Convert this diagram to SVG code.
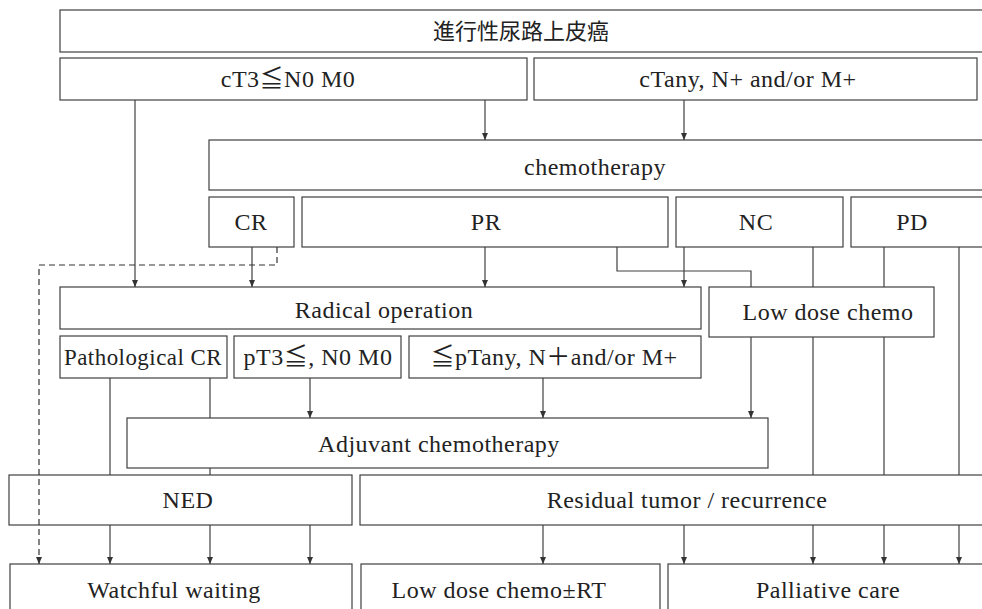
<svg xmlns="http://www.w3.org/2000/svg" width="982" height="609" viewBox="0 0 982 609">
<defs>
<style>
.b{fill:#fff;stroke:#404040;stroke-width:1.2}
.t{font-family:"Liberation Serif","DejaVu Serif","Noto Sans CJK JP",serif;font-size:24px;letter-spacing:0.5px;fill:#222;text-anchor:middle}
.j{font-family:"Noto Sans CJK JP","Liberation Serif",sans-serif;font-size:22px;fill:#222;text-anchor:middle}
.c{fill:none;stroke:#404040;stroke-width:1.2}
.a{marker-end:url(#ah)}
.d{stroke:#333;stroke-dasharray:6 4}
</style>
<marker id="ah" markerUnits="userSpaceOnUse" markerWidth="8" markerHeight="8" refX="7" refY="3" orient="auto">
<path d="M0,0 L7,3 L0,6 z" fill="#333"/>
</marker>
</defs>
<g id="title"><rect class="b" x="60" y="10" width="940" height="42"/><text class="j" x="521" y="39">進行性尿路上皮癌</text></g>
<g id="ct3"><rect class="b" x="60" y="58" width="467" height="42"/><text class="t" x="288" y="87">cT3≦N0 M0</text></g>
<g id="ctany"><rect class="b" x="534" y="58" width="443" height="42"/><text class="t" x="748" y="87">cTany, N+ and/or M+</text></g>
<g id="chemo"><rect class="b" x="209" y="140" width="790" height="50"/><text class="t" x="595" y="175">chemotherapy</text></g>
<g id="cr"><rect class="b" x="209" y="197" width="85" height="50"/><text class="t" x="251" y="230">CR</text></g>
<g id="pr"><rect class="b" x="302" y="197" width="366" height="50"/><text class="t" x="486" y="230">PR</text></g>
<g id="nc"><rect class="b" x="676" y="197" width="167" height="50"/><text class="t" x="756" y="230">NC</text></g>
<g id="pd"><rect class="b" x="851" y="197" width="150" height="50"/><text class="t" x="912" y="230">PD</text></g>
<g id="radical"><rect class="b" x="60" y="287" width="641" height="42"/><text class="t" x="384" y="318">Radical operation</text></g>
<g id="lowdose"><rect class="b" x="709" y="287" width="225" height="50"/><text class="t" x="828" y="320">Low dose chemo</text></g>
<g id="pcr"><rect class="b" x="60" y="336" width="167" height="42"/><text class="t" x="143" y="365" textLength="158" lengthAdjust="spacingAndGlyphs">Pathological CR</text></g>
<g id="pt3"><rect class="b" x="234" y="336" width="167" height="42"/><text class="t" x="318" y="365">pT3≦, N0 M0</text></g>
<g id="ptany"><rect class="b" x="409" y="336" width="292" height="42"/><text class="t" x="554" y="365">≦pTany, N＋and/or M+</text></g>
<g id="adjuvant"><rect class="b" x="127" y="418" width="641" height="50"/><text class="t" x="439" y="452">Adjuvant chemotherapy</text></g>
<g id="ned"><rect class="b" x="9" y="475" width="343" height="50"/><text class="t" x="188" y="508">NED</text></g>
<g id="residual"><rect class="b" x="360" y="475" width="640" height="50"/><text class="t" x="687" y="508">Residual tumor / recurrence</text></g>
<g id="watchful"><rect class="b" x="10" y="564" width="342" height="60"/><text class="t" x="174" y="598">Watchful waiting</text></g>
<g id="lowdosert"><rect class="b" x="361" y="564" width="299" height="60"/><text class="t" x="499" y="598">Low dose chemo±RT</text></g>
<g id="palliative"><rect class="b" x="668" y="564" width="332" height="60"/><text class="t" x="828" y="598">Palliative care</text></g>
<g id="connectors">
<path class="c a" d="M135 100 V287"/>
<path class="c a" d="M485 100 V140"/>
<path class="c a" d="M684 100 V140"/>
<path class="c a" d="M252 247 V287"/>
<path class="c a d" d="M277 247 V265 H39 V564"/>
<path class="c a" d="M485 247 V287"/>
<path class="c" d="M617 247 V271 H751 V287"/>
<path class="c a" d="M684 247 V287"/>
<path class="c" d="M813 247 V287 M813 337 V475"/>
<path class="c" d="M884 247 V287 M884 337 V475"/>
<path class="c" d="M959 247 V475"/>
<path class="c a" d="M751 337 V418"/>
<path class="c" d="M110 378 V475"/>
<path class="c" d="M210 378 V418 M210 468 V475"/>
<path class="c a" d="M310 378 V418"/>
<path class="c a" d="M543 378 V418"/>
<path class="c a" d="M110 525 V564"/>
<path class="c a" d="M210 525 V564"/>
<path class="c a" d="M310 525 V564"/>
<path class="c a" d="M543 525 V564"/>
<path class="c a" d="M684 525 V564"/>
<path class="c a" d="M813 525 V564"/>
<path class="c a" d="M884 525 V564"/>
<path class="c a" d="M959 525 V564"/>
</g>
</svg>
